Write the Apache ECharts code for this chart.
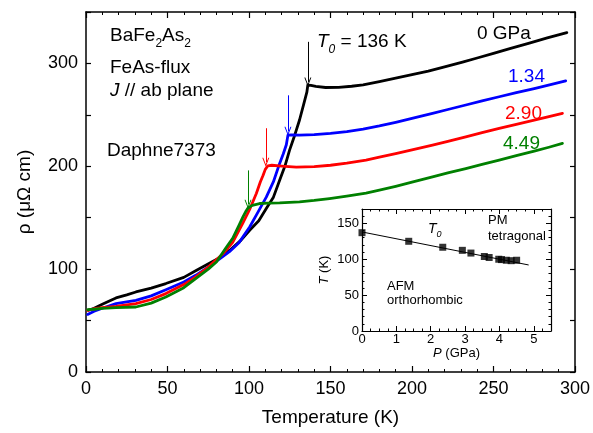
<!DOCTYPE html>
<html>
<head>
<meta charset="utf-8">
<script src="https://cdn.jsdelivr.net/npm/echarts@6/dist/echarts.min.js"></script>
<style>
html,body{margin:0;padding:0;background:#fff;}
#chart{width:593px;height:433px;}
</style>
</head>
<body>
<div id="chart"></div>
<script>
// ---------- data ----------
const seriesNames = ['0 GPa', '1.34', '2.90', '4.49'];
const seriesColors = ['#000000', '#0000ff', '#ff0000', '#008000'];

const T_0 = [1.5, 5, 10, 15, 18.4, 25, 30.6, 40, 49, 60, 67.3, 76, 82, 88.2, 95, 100.4, 106, 110.6, 115, 118.8, 122, 124.9, 128, 131, 133.5, 135.5, 136.1, 138, 141, 147, 155, 163, 170, 180, 190, 200, 210, 220, 231, 240, 250, 260, 272, 283, 295];
const R_0 = [60, 62, 65.8, 69.5, 72, 75, 77.8, 81.5, 86, 92, 98.5, 106, 111, 118.4, 128, 137.8, 147, 159, 170, 186.5, 200, 215.7, 230, 245, 260, 272, 279, 278.6, 277.6, 276.6, 276.8, 277.8, 279.2, 282.3, 285.6, 289, 292.6, 296.6, 301.3, 305.3, 309.8, 314.3, 319.8, 324.8, 330];

const T_134 = [1, 5, 10, 18.4, 30.6, 40, 49, 60, 67.3, 75, 82, 88, 94, 100.4, 105, 110.6, 115, 118.8, 121, 122.9, 123.9, 126, 131, 140, 150, 160, 170, 180, 190, 200, 212.6, 222, 233, 243, 253.5, 264, 275, 285, 294.3];
const R_134 = [56, 59, 62, 66.5, 69.7, 74, 80, 87.5, 94, 102, 110, 117, 126, 141, 154, 170, 185, 202.8, 212, 221, 230.3, 230.5, 230.3, 230.8, 232, 233.8, 236.2, 239.2, 242.7, 246.5, 251.4, 255.2, 259.6, 263.6, 267.6, 271.6, 275.6, 279.3, 283];

const T_290 = [1, 5, 10, 18.4, 30.6, 40, 49, 60, 67.3, 75, 84, 90, 96.3, 100.4, 104.5, 107, 108.6, 110, 111.6, 114, 120, 129, 140, 150, 160, 171.8, 180, 190, 200, 212.6, 222, 233, 243, 253.5, 264, 275, 284, 292.3];
const R_290 = [60, 61.5, 62.5, 63.9, 66.5, 70.5, 76.2, 85, 92.4, 102, 115, 126, 145, 158, 173.5, 185, 191, 197, 200.5, 201, 200.2, 199.2, 199.6, 201, 203, 206, 208.8, 212.3, 216, 220.6, 224.2, 228.5, 232.7, 236.8, 240.8, 244.8, 248.2, 251.4];

const T_449 = [1, 5, 10, 18.4, 30.6, 40, 49, 60, 67.3, 75, 80, 86, 90, 94, 96.3, 98, 99.4, 102, 106.5, 112, 118.8, 131, 140, 149.4, 160, 171.8, 180, 190, 200, 212.6, 222, 233, 243, 253.5, 264, 275, 284, 292.3];
const R_449 = [60.6, 61, 61.8, 62.6, 63.2, 67, 72.9, 82, 90.8, 100, 107, 121, 130, 143, 150.8, 156, 159.5, 162, 163.8, 164.2, 164.4, 165.4, 166.8, 168.6, 171, 174, 176.8, 180.5, 184.5, 189.7, 193.5, 197.8, 201.9, 206, 210.3, 214.8, 218.5, 222.2];

// arrows marking T0 for each curve
const arrowT   = [136.1, 123.9, 110.3, 99.4];
const arrowTop = [321, 269, 237, 196];
const arrowTip = [282, 234, 204, 163];

// inset: T0 vs pressure
const insetP = [0, 1.36, 2.35, 2.92, 3.17, 3.56, 3.70, 3.98, 4.06, 4.20, 4.34, 4.50];
const insetT = [137, 125, 116.7, 112.4, 108.6, 103.8, 102.4, 100, 99.5, 98.6, 98, 98.6];
const fitP = [0, 4.85];
const fitT = [138, 92];

// tick labels
const xTicks = [0, 50, 100, 150, 200, 250, 300];
const yTicks = [0, 100, 200, 300];
const insetXTicks = [0, 1, 2, 3, 4, 5];
const insetYTicks = [0, 50, 100, 150];

// ---------- chart ----------
const FONT = 'Liberation Sans, Arial, Helvetica, sans-serif';
const zip = (a, b) => a.map((v, i) => [v, b[i]]);
const curveT = [T_0, T_134, T_290, T_449];
const curveR = [R_0, R_134, R_290, R_449];

const chart = echarts.init(document.getElementById('chart'), null, {renderer: 'canvas'});

const axLine = {show: true, onZero: false, lineStyle: {color: '#000', width: 1.5}};
const noSplit = {show: false};

function mainX(pos, labels) {
  return {
    gridIndex: 0, type: 'value', position: pos, min: 0, max: 300, interval: 50,
    axisLine: axLine,
    axisTick: {show: true, inside: true, length: 6, lineStyle: {color: '#000', width: 1.2}},
    minorTick: {show: true, splitNumber: 5, length: 3, lineStyle: {color: '#000', width: 1}},
    splitLine: noSplit, minorSplitLine: noSplit,
    axisLabel: labels ? {show: true, fontSize: 18, color: '#000', fontFamily: FONT, margin: 8,
      formatter: v => xTicks.includes(v) ? String(v) : ''} : {show: false},
    name: labels ? 'Temperature (K)' : '',
    nameLocation: 'middle', nameGap: 36,
    nameTextStyle: {fontSize: 19, color: '#000', fontFamily: FONT}
  };
}
function mainY(pos, labels) {
  return {
    gridIndex: 0, type: 'value', position: pos, min: 0, max: 350, interval: 50,
    axisLine: axLine,
    axisTick: {show: true, inside: true, length: 5, lineStyle: {color: '#000', width: 1.2}},
    splitLine: noSplit,
    axisLabel: labels ? {show: true, fontSize: 18, color: '#000', fontFamily: FONT, margin: 8,
      formatter: v => yTicks.includes(v) ? String(v) : ''} : {show: false},
    name: labels ? 'ρ (μΩ cm)' : '',
    nameLocation: 'middle', nameGap: 52, nameRotate: 90,
    nameTextStyle: {fontSize: 19, color: '#000', fontFamily: FONT}
  };
}
const insetLine = {show: true, onZero: false, lineStyle: {color: '#000', width: 1.2}};
function insetX(pos, labels) {
  return {
    gridIndex: 1, type: 'value', position: pos, min: 0, max: 5.5, interval: 1,
    axisLine: insetLine,
    axisTick: {show: true, inside: true, length: 5, lineStyle: {color: '#000', width: 1}},
    minorTick: {show: true, splitNumber: 4, length: 2.5, lineStyle: {color: '#000', width: 1}},
    splitLine: noSplit, minorSplitLine: noSplit,
    axisLabel: labels ? {show: true, fontSize: 13, color: '#000', fontFamily: FONT, margin: 2,
      formatter: v => insetXTicks.includes(v) ? String(v) : ''} : {show: false},
    name: labels ? '{i|P} (GPa)' : '',
    nameLocation: 'middle', nameGap: 14,
    nameTextStyle: {fontSize: 13, color: '#000', fontFamily: FONT, rich: {i: {fontStyle: 'italic', fontSize: 13, fontFamily: FONT}}}
  };
}
function insetY(pos, labels) {
  return {
    gridIndex: 1, type: 'value', position: pos, min: 0, max: 170, interval: 50,
    axisLine: insetLine,
    axisTick: {show: true, inside: true, length: 5, lineStyle: {color: '#000', width: 1}},
    minorTick: {show: true, splitNumber: 5, length: 2.5, lineStyle: {color: '#000', width: 1}},
    splitLine: noSplit, minorSplitLine: noSplit,
    axisLabel: labels ? {show: true, fontSize: 13, color: '#000', fontFamily: FONT, margin: 3,
      formatter: v => insetYTicks.includes(v) ? String(v) : ''} : {show: false},
    name: labels ? '{i|T} (K)' : '',
    nameLocation: 'middle', nameGap: 31, nameRotate: 90,
    nameTextStyle: {fontSize: 13, color: '#000', fontFamily: FONT, rich: {i: {fontStyle: 'italic', fontSize: 13, fontFamily: FONT}}}
  };
}

const arrowPath = 'path://M5,0 L10,10 L8.6,10 L5,2.8 L1.4,10 L0,10 Z';

const series = curveT.map((ts, k) => ({
  name: seriesNames[k], type: 'line', xAxisIndex: 0, yAxisIndex: 0,
  data: zip(ts, curveR[k]), showSymbol: false, smooth: false,
  lineStyle: {color: seriesColors[k], width: 2.8, join: 'round', cap: 'round'}, itemStyle: {color: seriesColors[k]},
  z: 2 + k, animation: false,
  markLine: {
    silent: true, symbol: ['none', arrowPath], symbolSize: [7, 9],
    lineStyle: {color: seriesColors[k], width: 1, type: 'solid'},
    label: {show: false},
    data: [[{coord: [arrowT[k], arrowTop[k]]}, {coord: [arrowT[k], arrowTip[k]]}]]
  }
}));

series.push({
  type: 'line', xAxisIndex: 2, yAxisIndex: 2, data: zip(fitP, fitT), showSymbol: false,
  lineStyle: {color: '#000', width: 1}, z: 10, animation: false
});
series.push({
  type: 'scatter', xAxisIndex: 2, yAxisIndex: 2, data: zip(insetP, insetT),
  symbol: 'rect', symbolSize: 7, itemStyle: {color: '#000'}, z: 11, animation: false
});

const txt = (left, top, text, size, color, rich) => ({
  type: 'text', left: left, top: top, z: 100,
  style: {text: text, fontSize: size, fontFamily: FONT, fill: color || '#000', rich: rich || {}}
});

const richMain = {
  s: {fontSize: 12, fontFamily: FONT, padding: [16, 0, 0, 0], lineHeight: 12},
  i: {fontStyle: 'italic', fontSize: 19, fontFamily: FONT},
  is: {fontStyle: 'italic', fontSize: 12, fontFamily: FONT, padding: [16, 0, 0, 0], lineHeight: 12}
};
const richInset = {
  i: {fontStyle: 'italic', fontSize: 14, fontFamily: FONT},
  is: {fontStyle: 'italic', fontSize: 9, fontFamily: FONT, padding: [11, 0, 0, 0], lineHeight: 9}
};

const option = {
  backgroundColor: '#fff',
  animation: false,
  grid: [
    {left: 86, top: 12, width: 490, height: 360, show: false},
    {left: 362, top: 209, width: 189, height: 122, show: false}
  ],
  xAxis: [mainX('bottom', true), mainX('top', false), insetX('bottom', true), insetX('top', false)],
  yAxis: [mainY('left', true), mainY('right', false), insetY('left', true), insetY('right', false)],
  series: series,
  graphic: [
    txt(110, 22, 'BaFe{s|2}As{s|2}', 19, '#000', richMain),
    txt(110, 58, 'FeAs-flux', 19),
    txt(110, 81, '{i|J} // ab plane', 19, '#000', richMain),
    txt(107, 141, 'Daphne7373', 19),
    txt(317, 28, '{i|T}{is|0} = 136 K', 19, '#000', richMain),
    txt(477, 24, '0 GPa', 19),
    txt(508, 67, '1.34', 19, '#0000ff'),
    txt(505, 104, '2.90', 19, '#ff0000'),
    txt(503, 134, '4.49', 19, '#008000'),
    txt(428, 219, '{i|T}{is|0}', 14, '#000', richInset),
    txt(488, 214, 'PM', 13),
    txt(488, 230, 'tetragonal', 13),
    txt(387, 280, 'AFM', 13),
    txt(387, 294, 'orthorhombic', 13)
  ]
};
chart.setOption(option);
</script>
</body>
</html>
